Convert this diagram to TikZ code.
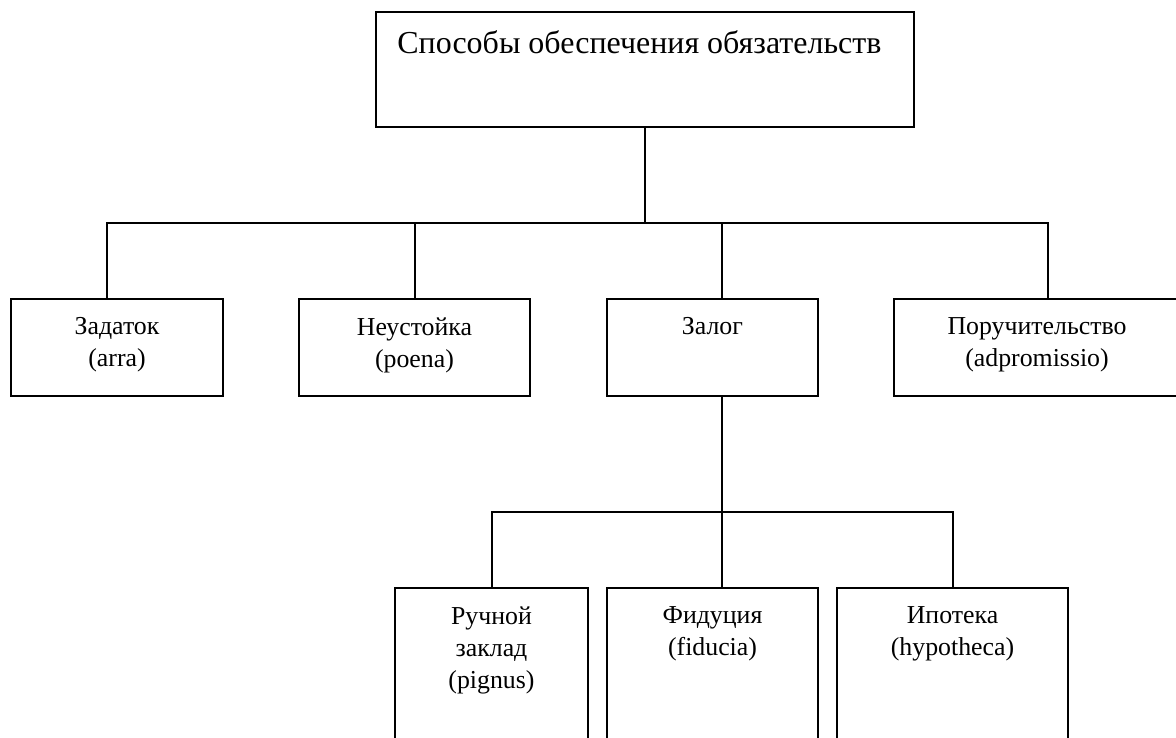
\documentclass[tikz,border=0pt]{standalone}
\usepackage{fontspec}
\setmainfont{Liberation Serif}
\usetikzlibrary{calc}
\tikzset{
  box/.style={draw, line width=1.1pt, rectangle, inner sep=0, minimum height=1.94cm},
  lbl/.style={anchor=north, align=center, inner sep=0, font=\fontsize{14.7}{18.2}\selectfont},
  conn/.style={line width=1.1pt}
}
\begin{document}
\begin{tikzpicture}[x=0.02cm, y=-0.02cm]
\useasboundingbox (0,0) rectangle (1176,737);
\clip (0,0) rectangle (1176,737);
\node[box, minimum width=10.76cm, minimum height=2.3cm] (top) at (645,69.5) {};
\node[anchor=base west, inner sep=0, font=\fontsize{18.2}{22}\selectfont] (toptxt) at (397,53) {Способы обеспечения обязательств};

\node[box, minimum width=4.24cm] (zad) at (117,347.5) {};
\node[box, minimum width=4.62cm] (neust) at (414.5,347.5) {};
\node[box, minimum width=4.22cm] (zalog) at (712.5,347.5) {};
\node[box, minimum width=5.72cm] (poruch) at (1037,347.5) {};
\node[lbl] (zadt) at ($(zad.north)+(0,19)$) {Задаток\\(arra)};
\node[lbl] (neustt) at ($(neust.north)+(0,19)$) {Неустойка\\(poena)};
\node[lbl] (zalogt) at ($(zalog.north)+(0,19)$) {Залог};
\node[lbl] (porucht) at ($(poruch.north)+(0,19)$) {Поручительство\\(adpromissio)};

\node[box, minimum width=3.86cm, minimum height=4.24cm] (ruch) at (491.5,694) {};
\node[box, minimum width=4.22cm, minimum height=4.24cm] (fid) at (712.5,694) {};
\node[box, minimum width=4.62cm, minimum height=4.24cm] (ipo) at (952.5,694) {};
\node[lbl] (rucht) at ($(ruch.north)+(0,19)$) {Ручной\\заклад\\(pignus)};
\node[lbl] (fidt) at ($(fid.north)+(0,19)$) {Фидуция\\(fiducia)};
\node[lbl] (ipot) at ($(ipo.north)+(0,19)$) {Ипотека\\(hypotheca)};

\coordinate (bus1) at (645,223);
\coordinate (bus2) at (722,512);
\draw[conn] (top.south) -- (bus1);
\foreach \n/\dx in {zad/-10, neust/0.5, zalog/9.5, poruch/11}
  \draw[conn] ($(\n.north)+(\dx,0)$) |- (bus1);
\draw[conn] ($(zalog.south)+(9.5,0)$) -- (bus2);
\foreach \n/\dx in {ruch/0.5, fid/9.5, ipo/0.5}
  \draw[conn] ($(\n.north)+(\dx,0)$) |- (bus2);
\end{tikzpicture}
\end{document}
